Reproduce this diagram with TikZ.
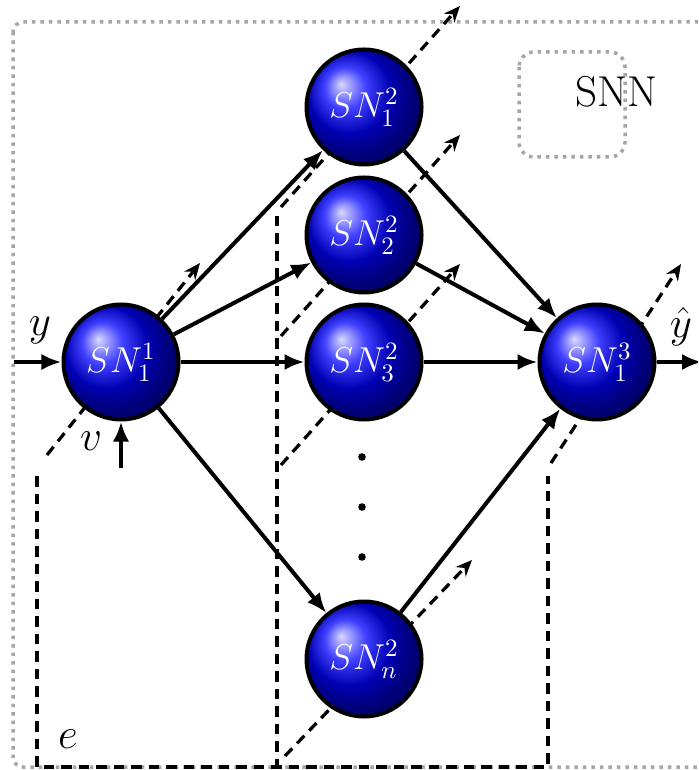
\documentclass[tikz,border=0pt]{standalone}
\usetikzlibrary{arrows.meta}
\begin{document}
\begin{tikzpicture}[x=0.4pt,y=-0.4pt,
  neuron/.style={circle, draw=black, line width=1.6pt, ball color=blue, minimum size=46pt, inner sep=0pt, text=white, font=\Large},
  conn/.style={line width=1.6pt, -{Latex[length=8pt,width=6.5pt]}},
  plane/.style={line width=1.3pt, dash pattern=on 4.2pt off 2.8pt},
  planearrow/.style={plane, -{Stealth[length=6.5pt,width=5.5pt]}},
  frame/.style={black!35, line width=1.4pt, dotted, rounded corners=4pt},
  lab/.style={font=\LARGE}]
\useasboundingbox (0,0) rectangle (698,770);
\clip (0,0) rectangle (698,770);
% frames
\draw[frame] (13,22) rectangle (740,767);
\draw[frame, rounded corners=6pt] (519,52) rectangle (625,157);
\node[font=\LARGE] (snn) at (616,92) {SNN};
% planes
\coordinate (p1t) at (37,476); \coordinate (p1b) at (37,767);
\coordinate (p2t) at (277,216); \coordinate (p2b) at (277,767);
\coordinate (p3t) at (548,476); \coordinate (p3b) at (548,767);
\draw[plane] (p1t) -- (p1b) -- (p3b) -- (p3t);
\draw[plane] (p2t) -- (p2b);
\coordinate (d1s) at (47,455);  \coordinate (d1e) at (200,263);
\coordinate (d2s) at (281,207); \coordinate (d2e) at (460,6);
\coordinate (d3s) at (281,336); \coordinate (d3e) at (460,135);
\coordinate (d4s) at (281,465); \coordinate (d4e) at (460,264);
\coordinate (d5s) at (285,756); \coordinate (d5e) at (472,560);
\coordinate (d6s) at (551,463); \coordinate (d6e) at (681,264);
\foreach \s/\e in {d1s/d1e,d2s/d2e,d3s/d3e,d4s/d4e,d5s/d5e,d6s/d6e}
  \draw[planearrow] (\s) -- (\e);
% neurons
\node[neuron] (a) at (121,362) {$SN_1^1$};
\node[neuron] (b1) at (364,107) {$SN_1^2$};
\node[neuron] (b2) at (364,235) {$SN_2^2$};
\node[neuron] (b3) at (364,362) {$SN_3^2$};
\node[neuron] (bn) at (364,659) {$SN_n^2$};
\node[neuron] (c) at (597,362) {$SN_1^3$};
% dots
\fill (362,457) circle (3.8);
\fill (362,507) circle (3.8);
\fill (362,557) circle (3.8);
% connections
\coordinate (yin) at (14,362);
\coordinate (vin) at (121,468);
\coordinate (yout) at (702,362);
\draw[conn] (yin) -- (a);
\draw[conn] (vin) -- (a);
\foreach \n in {b1,b2,b3,bn} {
  \draw[conn] (a) -- (\n);
  \draw[conn] (\n) -- (c);
}
\draw[conn] (c) -- (yout);
% labels
\node[lab] (ylab) at (40,330) {$y$};
\node[lab] (vlab) at (91,441) {$v$};
\node[lab] (yhat) at (681,327) {$\hat{y}$};
\node[lab] (elab) at (68,739) {$e$};
\end{tikzpicture}
\end{document}
